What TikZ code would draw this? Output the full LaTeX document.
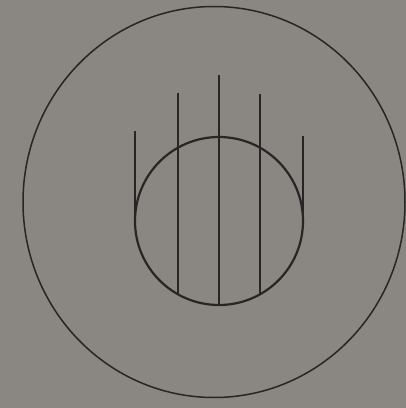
\documentclass[tikz,border=0pt]{standalone}
\usetikzlibrary{calc}
\definecolor{paper}{RGB}{138,134,129}
\definecolor{ink}{RGB}{40,38,37}
\tikzset{
  inkline/.style={draw=ink, line width=2.2pt},
  outerline/.style={draw=ink, line width=1.5pt}
}
\begin{document}
\begin{tikzpicture}[x=1pt,y=-1pt]
  \fill[paper] (0,0) rectangle (406,408);
  \useasboundingbox (0,0) rectangle (406,408);
  % centres
  \coordinate (O) at (214,202);
  \coordinate (C) at (219,221);
  % outer circle
  \draw[outerline] (O) ellipse [x radius=191, y radius=195.5];
  % inner circle
  \draw[inkline] (C) circle [radius=84];
  % vertical lines
  \coordinate (l1t) at (135,131);
  \coordinate (l1b) at (135,221);
  \coordinate (l2t) at (178,93);
  \coordinate (l2b) at (178,294);
  \coordinate (l3t) at (219,75);
  \coordinate (l3b) at (219,305);
  \coordinate (l4t) at (260,94);
  \coordinate (l4b) at (260,294);
  \coordinate (l5t) at (303,136);
  \coordinate (l5b) at (303,221);
  \draw[inkline] (l1t) -- (l1b);
  \draw[inkline] (l2t) -- (l2b);
  \draw[inkline] (l3t) -- (l3b);
  \draw[inkline] (l4t) -- (l4b);
  \draw[inkline] (l5t) -- (l5b);
\end{tikzpicture}
\end{document}
